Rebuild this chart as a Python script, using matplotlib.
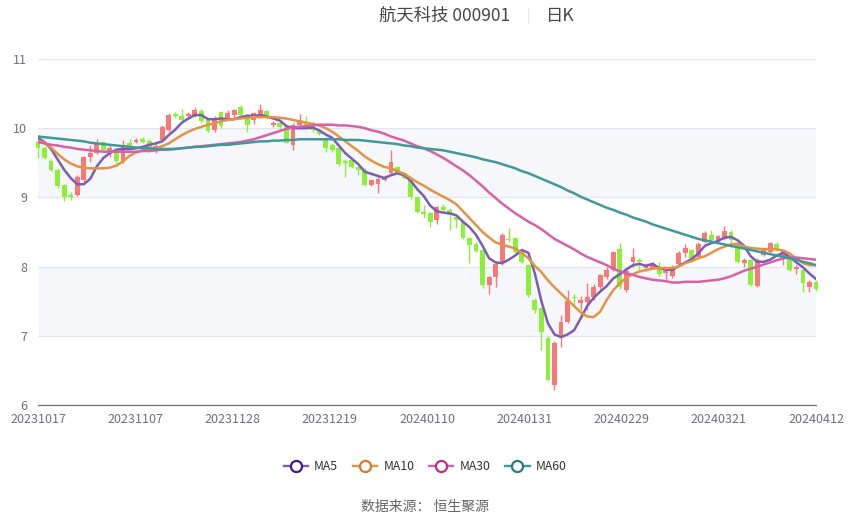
import matplotlib
matplotlib.use("Agg")
import matplotlib.pyplot as plt
from matplotlib.lines import Line2D
import numpy as np

plt.rcParams['font.family'] = ['Noto Sans CJK SC', 'DejaVu Sans']

# ---------------- data ----------------
date_labels = ["20231017", "20231107", "20231128", "20231219", "20240110",
               "20240131", "20240229", "20240321", "20240412"]

opens = [9.80, 9.72, 9.52, 9.40, 9.18, 9.03, 9.04, 9.25, 9.59, 9.64,
         9.80, 9.67, 9.65, 9.52, 9.79, 9.80, 9.84, 9.82, 9.67, 9.83,
         9.97, 10.20, 10.18, 10.18, 10.18, 10.25, 10.12, 9.97, 10.23, 10.15,
         10.19, 10.31, 10.19, 10.12, 10.19, 10.25, 10.05, 10.08, 10.02, 9.76,
         10.05, 10.09, 10.08, 9.97, 9.86, 9.76, 9.71, 9.52, 9.54, 9.44,
         9.40, 9.18, 9.20, 9.25, 9.35, 9.44, 9.35, 9.25, 9.00, 8.79,
         8.77, 8.67, 8.86, 8.82, 8.72, 8.64, 8.41, 8.33, 8.24, 7.73,
         7.85, 8.05, 8.40, 8.41, 8.21, 8.02, 7.52, 7.40, 6.97, 6.29,
         6.98, 7.20, 7.56, 7.47, 7.49, 7.56, 7.70, 7.85, 7.95, 8.26,
         7.66, 8.07, 8.10, 7.98, 7.98, 7.98, 7.91, 7.86, 8.04, 8.20,
         8.24, 8.14, 8.36, 8.46, 8.38, 8.40, 8.50, 8.34, 8.05, 8.09,
         7.72, 8.17, 8.21, 8.33, 8.14, 8.12, 7.96, 7.95, 7.70, 7.78]
closes = [9.72, 9.57, 9.40, 9.17, 9.00, 9.01, 9.30, 9.58, 9.64, 9.79,
          9.69, 9.72, 9.52, 9.76, 9.72, 9.83, 9.80, 9.69, 9.74, 10.02,
          10.19, 10.18, 10.12, 10.21, 10.27, 10.10, 9.96, 10.15, 10.03, 10.22,
          10.26, 10.19, 10.05, 10.22, 10.26, 10.16, 10.07, 10.02, 9.79, 10.05,
          10.12, 10.05, 9.97, 9.92, 9.71, 9.69, 9.48, 9.50, 9.44, 9.40,
          9.18, 9.25, 9.27, 9.29, 9.51, 9.35, 9.28, 9.00, 8.79, 8.76,
          8.64, 8.86, 8.82, 8.75, 8.67, 8.42, 8.31, 8.23, 7.73, 7.85,
          8.04, 8.46, 8.38, 8.21, 8.07, 7.59, 7.37, 7.05, 6.36, 6.90,
          7.20, 7.50, 7.54, 7.52, 7.56, 7.70, 7.88, 7.95, 8.21, 7.70,
          7.94, 8.14, 8.06, 8.02, 8.02, 7.89, 7.97, 8.00, 8.20, 8.27,
          8.12, 8.33, 8.49, 8.38, 8.44, 8.52, 8.38, 8.07, 8.09, 7.73,
          8.10, 8.27, 8.34, 8.24, 8.24, 7.95, 8.00, 7.76, 7.78, 7.67]
highs = [9.85, 9.75, 9.55, 9.42, 9.20, 9.08, 9.32, 9.60, 9.76, 9.85,
         9.82, 9.76, 9.68, 9.83, 9.84, 9.86, 9.88, 9.84, 9.78, 10.04,
         10.22, 10.24, 10.28, 10.24, 10.30, 10.28, 10.14, 10.17, 10.25, 10.26,
         10.28, 10.33, 10.20, 10.24, 10.35, 10.27, 10.10, 10.12, 10.03, 10.07,
         10.21, 10.18, 10.10, 9.99, 9.88, 9.78, 9.73, 9.55, 9.57, 9.46,
         9.42, 9.27, 9.29, 9.32, 9.69, 9.46, 9.37, 9.26, 9.01, 8.89,
         8.79, 8.88, 8.90, 8.84, 8.74, 8.66, 8.43, 8.35, 8.26, 7.87,
         8.06, 8.48, 8.56, 8.43, 8.23, 8.04, 7.54, 7.42, 7.00, 6.92,
         7.30, 7.66, 7.60, 7.58, 7.76, 7.75, 7.90, 8.00, 8.23, 8.34,
         7.97, 8.27, 8.12, 8.05, 8.07, 8.07, 8.00, 8.02, 8.22, 8.32,
         8.26, 8.35, 8.52, 8.53, 8.46, 8.58, 8.53, 8.36, 8.12, 8.11,
         8.12, 8.29, 8.36, 8.36, 8.25, 8.14, 8.03, 7.97, 7.80, 7.80]
lows = [9.57, 9.55, 9.38, 9.14, 8.95, 8.96, 9.02, 9.22, 9.51, 9.62,
        9.66, 9.58, 9.50, 9.50, 9.68, 9.78, 9.78, 9.66, 9.64, 9.82,
        9.95, 10.15, 10.10, 10.16, 10.16, 10.08, 9.94, 9.95, 10.01, 10.12,
        10.15, 10.17, 9.95, 10.06, 10.17, 10.14, 10.02, 9.96, 9.78, 9.69,
        10.03, 10.02, 9.95, 9.90, 9.65, 9.66, 9.46, 9.29, 9.42, 9.33,
        9.16, 9.16, 9.07, 9.23, 9.33, 9.33, 9.26, 8.98, 8.77, 8.70,
        8.57, 8.62, 8.79, 8.53, 8.56, 8.40, 8.05, 8.21, 7.69, 7.60,
        7.71, 8.03, 8.36, 8.19, 8.05, 7.56, 7.33, 6.79, 6.34, 6.22,
        6.84, 7.18, 7.45, 7.38, 7.37, 7.52, 7.68, 7.82, 7.93, 7.68,
        7.63, 8.00, 7.95, 7.94, 7.96, 7.87, 7.82, 7.84, 8.02, 8.14,
        8.10, 8.12, 8.34, 8.35, 8.36, 8.38, 8.27, 8.05, 7.99, 7.72,
        7.70, 8.15, 8.19, 8.22, 8.03, 7.93, 7.90, 7.63, 7.63, 7.65]

ma5 = [9.86, 9.80, 9.70, 9.55, 9.40, 9.28, 9.19, 9.19, 9.27, 9.45,
       9.57, 9.64, 9.69, 9.70, 9.70, 9.71, 9.73, 9.76, 9.78, 9.81,
       9.90, 9.98, 10.08, 10.14, 10.19, 10.19, 10.13, 10.13, 10.14, 10.13,
       10.13, 10.16, 10.18, 10.18, 10.19, 10.17, 10.14, 10.11, 10.03, 10.00,
       10.00, 10.00, 10.01, 9.97, 9.91, 9.86, 9.75, 9.64, 9.56, 9.48,
       9.37, 9.34, 9.31, 9.28, 9.32, 9.35, 9.32, 9.24, 9.12, 9.02,
       8.88, 8.80, 8.78, 8.77, 8.74, 8.65, 8.57, 8.46, 8.30, 8.12,
       8.06, 8.05, 8.10, 8.16, 8.24, 8.20, 7.90, 7.50, 7.18, 7.02,
       6.98, 7.02, 7.08, 7.25, 7.43, 7.55, 7.64, 7.72, 7.83, 7.89,
       7.96, 8.02, 8.04, 8.01, 8.04, 7.98, 7.96, 7.95, 8.01, 8.06,
       8.11, 8.19, 8.30, 8.34, 8.37, 8.42, 8.43, 8.38, 8.30, 8.15,
       8.07, 8.07, 8.10, 8.16, 8.20, 8.14, 8.06, 7.99, 7.90, 7.82]
ma10 = [9.82, 9.79, 9.72, 9.63, 9.55, 9.49, 9.45, 9.43, 9.42, 9.42,
        9.42, 9.43, 9.46, 9.52, 9.60, 9.65, 9.68, 9.70, 9.71, 9.74,
        9.78, 9.84, 9.90, 9.95, 9.99, 10.02, 10.05, 10.07, 10.10, 10.12,
        10.13, 10.14, 10.15, 10.16, 10.16, 10.16, 10.16, 10.15, 10.14, 10.12,
        10.10, 10.08, 10.06, 10.04, 10.00, 9.95, 9.88, 9.81, 9.74, 9.67,
        9.59, 9.53, 9.48, 9.44, 9.42, 9.38, 9.34, 9.28, 9.22, 9.17,
        9.11, 9.06, 9.01, 8.96, 8.90, 8.80, 8.70, 8.60, 8.50, 8.42,
        8.35, 8.32, 8.29, 8.26, 8.20, 8.12, 8.01, 7.92, 7.80, 7.70,
        7.61, 7.52, 7.43, 7.34, 7.28, 7.27, 7.35, 7.52, 7.66, 7.76,
        7.84, 7.89, 7.93, 7.95, 7.97, 7.98, 7.98, 7.98, 8.00, 8.05,
        8.08, 8.12, 8.15, 8.20, 8.25, 8.29, 8.32, 8.33, 8.29, 8.27,
        8.26, 8.25, 8.25, 8.25, 8.23, 8.19, 8.11, 8.05, 8.02, 8.02]
ma30 = [9.80, 9.78, 9.76, 9.75, 9.73, 9.72, 9.70, 9.69, 9.68, 9.67,
        9.66, 9.66, 9.66, 9.66, 9.66, 9.66, 9.67, 9.67, 9.68, 9.69,
        9.69, 9.70, 9.71, 9.72, 9.73, 9.74, 9.75, 9.76, 9.77, 9.78,
        9.79, 9.80, 9.82, 9.84, 9.87, 9.90, 9.93, 9.96, 9.99, 10.01,
        10.02, 10.03, 10.04, 10.05, 10.05, 10.05, 10.04, 10.04, 10.03, 10.02,
        10.00, 9.97, 9.95, 9.92, 9.88, 9.85, 9.82, 9.78, 9.74, 9.71,
        9.67, 9.62, 9.57, 9.51, 9.45, 9.39, 9.32, 9.24, 9.16, 9.07,
        8.99, 8.91, 8.84, 8.77, 8.71, 8.65, 8.60, 8.54, 8.47, 8.40,
        8.35, 8.30, 8.25, 8.19, 8.14, 8.10, 8.06, 8.02, 7.97, 7.93,
        7.90, 7.88, 7.85, 7.83, 7.81, 7.80, 7.79, 7.77, 7.77, 7.78,
        7.78, 7.78, 7.79, 7.80, 7.81, 7.83, 7.86, 7.90, 7.94, 7.97,
        8.00, 8.03, 8.06, 8.09, 8.12, 8.13, 8.13, 8.12, 8.11, 8.10]
ma60 = [9.88, 9.87, 9.86, 9.85, 9.84, 9.83, 9.82, 9.81, 9.79, 9.78,
        9.77, 9.76, 9.75, 9.74, 9.73, 9.72, 9.71, 9.71, 9.70, 9.70,
        9.70, 9.70, 9.71, 9.72, 9.73, 9.73, 9.74, 9.75, 9.76, 9.76,
        9.77, 9.78, 9.79, 9.80, 9.81, 9.81, 9.82, 9.82, 9.83, 9.83,
        9.84, 9.84, 9.84, 9.84, 9.84, 9.84, 9.84, 9.83, 9.83, 9.83,
        9.82, 9.81, 9.80, 9.79, 9.78, 9.77, 9.75, 9.74, 9.72, 9.71,
        9.70, 9.69, 9.68, 9.66, 9.64, 9.62, 9.60, 9.58, 9.55, 9.53,
        9.51, 9.48, 9.45, 9.42, 9.38, 9.35, 9.31, 9.27, 9.23, 9.19,
        9.15, 9.10, 9.06, 9.01, 8.97, 8.93, 8.89, 8.85, 8.82, 8.78,
        8.75, 8.71, 8.68, 8.65, 8.61, 8.58, 8.55, 8.52, 8.49, 8.46,
        8.43, 8.40, 8.38, 8.36, 8.34, 8.32, 8.30, 8.28, 8.26, 8.24,
        8.22, 8.20, 8.18, 8.16, 8.14, 8.12, 8.10, 8.07, 8.05, 8.02]

ma_names = ["MA5", "MA10", "MA30", "MA60"]
ma_colors = ["#7d5cb4", "#e39346", "#d760a6", "#3f999b"]
ma_marker_edges = ["#3f1f86", "#d9782a", "#c42c83", "#2a7c80"]

# ---------------- figure ----------------
fig = plt.figure(figsize=(8.5, 5.17), dpi=100)
ax = fig.add_axes([38 / 850, 1 - 405 / 517, (816 - 38) / 850, (405 - 59) / 517])

o = np.array(opens); c = np.array(closes); h = np.array(highs); l = np.array(lows)
x = np.arange(len(o))
up = c >= o
col = np.where(up, "#f87878", "#8cf03a")

# alternating split area
for lo_, hi_ in [(9, 10), (7, 8)]:
    ax.axhspan(lo_, hi_, color="#f5f7fb", zorder=0, lw=0)
for yv in range(6, 12):
    ax.axhline(yv, color="#e0e6f1", lw=0.9, zorder=1)

ax.vlines(x, l, h, colors=col, lw=1.0, zorder=2, clip_on=False)
ax.bar(x, np.maximum(np.abs(c - o), 0.012), bottom=np.minimum(o, c), width=0.74,
       color=col, zorder=3, lw=0, clip_on=False)

for vals, colr in zip([ma5, ma10, ma30, ma60], ma_colors):
    ax.plot(x, vals, color=colr, lw=1.8, zorder=4, solid_capstyle="round")

ax.set_xlim(0, len(o) - 1)
ax.set_ylim(6, 11)
ax.set_yticks(range(6, 12))
ax.set_yticklabels([str(v) for v in range(6, 12)])
ax.set_xticks(np.linspace(0, len(o) - 1, len(date_labels)))
ax.set_xticklabels(date_labels)
ax.tick_params(axis="both", colors="#6e7079", labelsize=9, length=0)
ax.tick_params(axis="x", pad=6)
ax.tick_params(axis="y", pad=8)
for s in ["top", "right", "left"]:
    ax.spines[s].set_visible(False)
ax.spines["bottom"].set_color("#6e7079")
ax.spines["bottom"].set_linewidth(0.9)

# title
fig.text(510 / 850, 1 - 16 / 517, "航天科技 000901", ha="right", va="center",
         fontsize=12.5, color="#464646")
fig.text(528 / 850, 1 - 16 / 517, "|", ha="center", va="center",
         fontsize=10, color="#dddddd")
fig.text(546 / 850, 1 - 16 / 517, "日K", ha="left", va="center",
         fontsize=12.5, color="#464646")

# legend
handles = [Line2D([0], [0], color=cc, lw=1.7, marker="o", markersize=8,
                  markerfacecolor="white", markeredgecolor=me, markeredgewidth=1.6)
           for cc, me in zip(ma_colors, ma_marker_edges)]
fig.legend(handles, ma_names, loc="center", bbox_to_anchor=(0.5, 1 - 467 / 517),
           ncol=4, frameon=False, fontsize=8.8, handlelength=2.0,
           columnspacing=1.2, handletextpad=0.5, labelcolor="#333333")

fig.text(0.5, 1 - 507 / 517, "数据来源： 恒生聚源", ha="center", va="center",
         fontsize=10, color="#666666")

fig.savefig("out.png", dpi=100)
